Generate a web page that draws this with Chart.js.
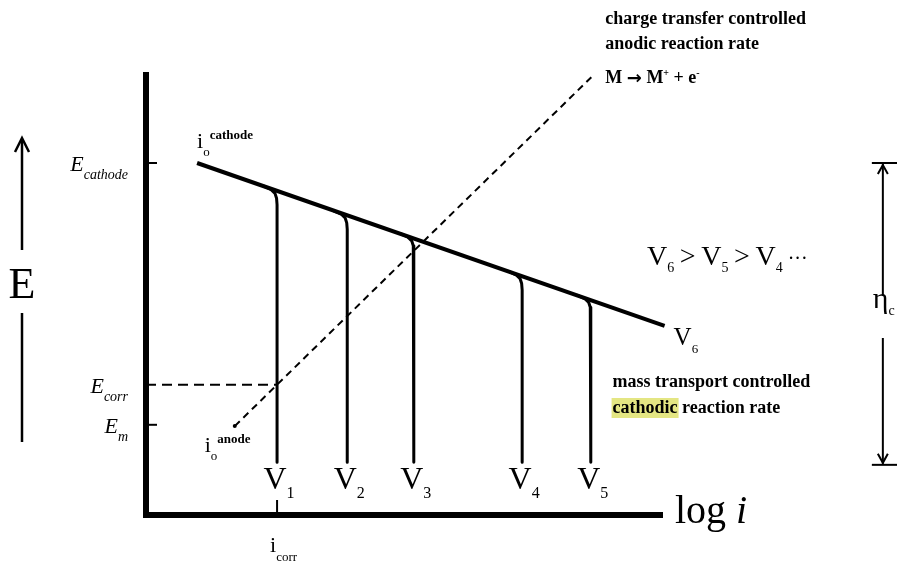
<!DOCTYPE html>
<html lang="en">
<head>
  <meta charset="UTF-8">
  <title>Evans diagram - mass transport controlled cathodic reaction</title>
  <script src="https://cdn.jsdelivr.net/npm/chart.js"></script>
  <style>
    body { margin: 0; background: #fff; }
    canvas { display: block; }
  </style>
</head>
<body>
  <canvas id="evans" width="897" height="564"></canvas>

  <script>
    // axes in arbitrary units: x = log i, y = E
    const cathodeX = [0.99, 10.05];      // i_o cathode -> V6
    const cathodeE = [8.0, 4.3];
    const anodeX = [1.72, 8.63];         // i_o anode -> M -> M+ + e-
    const anodeE = [2.02, 9.95];

    // limiting current curves V1..V5 (bend off the Tafel line, then straight down)
    const limitNames = ['1', '2', '3', '4', '5'];
    const curveX = [
      [2.27, 2.42, 2.50, 2.53, 2.54, 2.54],
      [3.63, 3.78, 3.86, 3.89, 3.90, 3.90],
      [4.92, 5.07, 5.15, 5.18, 5.19, 5.19],
      [7.02, 7.17, 7.25, 7.28, 7.29, 7.29],
      [8.35, 8.50, 8.58, 8.61, 8.62, 8.62]
    ];
    const curveE = [
      [7.48, 7.40, 7.31, 7.20, 7.05, 1.2],
      [6.92, 6.84, 6.75, 6.64, 6.49, 1.2],
      [6.40, 6.32, 6.23, 6.12, 5.97, 1.2],
      [5.54, 5.46, 5.37, 5.26, 5.11, 1.2],
      [5.00, 4.92, 4.83, 4.72, 4.57, 1.2]
    ];

    // potential levels on the E axis
    const eSubs = ['cathode', 'corr', 'm'];
    const eLevels = [8.0, 2.96, 2.05];
    const iCorr = 2.54;

    // overpotential bracket
    const etaX = 14.28;
    const etaE = [8.0, 1.14];

    const serif = '"Liberation Serif", "DejaVu Serif", serif';

    function pts(xs, ys) {
      return xs.map((v, i) => ({ x: v, y: ys[i] }));
    }

    // draws text pieces one after another (for sub/superscripts)
    function runs(ctx, items, x, base, align) {
      let w = 0;
      items.forEach(it => { ctx.font = it[1]; w += ctx.measureText(it[0]).width; });
      let cx = align === 'right' ? x - w : (align === 'center' ? x - w / 2 : x);
      items.forEach(it => {
        ctx.font = it[1];
        ctx.fillText(it[0], cx, base + (it[2] || 0));
        cx += ctx.measureText(it[0]).width;
      });
    }

    function line(ctx, x1, y1, x2, y2) {
      ctx.beginPath();
      ctx.moveTo(x1, y1);
      ctx.lineTo(x2, y2);
      ctx.stroke();
    }

    const textPlugin = {
      id: 'evansText',
      afterDatasetsDraw(chart) {
        const { ctx } = chart;
        const sx = chart.scales.x, sy = chart.scales.y;
        const px = v => sx.getPixelForValue(v);
        const py = v => sy.getPixelForValue(v);
        const axisX = px(0), axisY = py(0);

        ctx.save();
        ctx.fillStyle = '#000';
        ctx.strokeStyle = '#000';
        ctx.textBaseline = 'alphabetic';
        ctx.textAlign = 'left';

        // tick marks
        ctx.lineWidth = 2;
        [0, 2].forEach(i => line(ctx, axisX, py(eLevels[i]), axisX + 11, py(eLevels[i])));
        line(ctx, px(iCorr), axisY, px(iCorr), axisY - 15);

        // E labels
        eLevels.forEach((v, i) => {
          runs(ctx, [['E', 'italic 22px ' + serif], [eSubs[i], 'italic 14px ' + serif, 8]],
            axisX - 18, py(v) + 8, 'right');
        });

        // E axis title with arrow
        ctx.font = '44px ' + serif;
        ctx.textAlign = 'center';
        ctx.fillText('E', 22, 298);
        ctx.textAlign = 'left';
        ctx.lineWidth = 2.5;
        line(ctx, 22, 139, 22, 250);
        line(ctx, 22, 313, 22, 442);
        ctx.beginPath();
        ctx.moveTo(15, 152); ctx.lineTo(22, 138); ctx.lineTo(29, 152);
        ctx.stroke();

        // log i
        runs(ctx, [['log ', '40px ' + serif], ['i', 'italic 40px ' + serif]], sx.right + 13, axisY + 8, 'left');

        // i_corr
        runs(ctx, [['i', '22px ' + serif], ['corr', '13px ' + serif, 9]], px(iCorr) - 7, axisY + 37, 'left');

        // i_o cathode / i_o anode
        const c0x = px(cathodeX[0]), c0y = py(cathodeE[0]);
        runs(ctx, [['i', '22px ' + serif], ['o', '13px ' + serif, 8], ['cathode', 'bold 13px ' + serif, -9]],
          c0x, c0y - 15, 'left');
        const a0x = px(anodeX[0]), a0y = py(anodeE[0]);
        runs(ctx, [['i', '22px ' + serif], ['o', '13px ' + serif, 8], ['anode', 'bold 13px ' + serif, -9]],
          a0x - 30, a0y + 26, 'left');

        // V1..V5 labels under the limiting current lines
        limitNames.forEach((n, i) => {
          const xs = curveX[i];
          const lx = px(xs[xs.length - 1]) - 2;
          ctx.font = '32px ' + serif;
          const w = ctx.measureText('V').width;
          ctx.fillText('V', lx - w / 2, axisY - 26);
          ctx.font = '16px ' + serif;
          ctx.fillText(n, lx + w / 2, axisY - 17);
        });

        // V6 at the end of the line
        const eX = px(cathodeX[1]), eY = py(cathodeE[1]);
        runs(ctx, [['V', '25px ' + serif], ['6', '13px ' + serif, 8]], eX + 9, eY + 19, 'left');

        // V6 > V5 > V4 ...
        const vf = '28px ' + serif, vs = '14px ' + serif, gap = ['\u2009', vf];
        runs(ctx, [['V', vf], ['6', vs, 7], gap, ['>', vf], gap, ['V', vf], ['5', vs, 7], gap, ['>', vf], gap,
          ['V', vf], ['4', vs, 7], [' \u00b7\u00b7\u00b7', '20px ' + serif]], 647, 265, 'left');

        // annotations
        const af = 'bold 18px ' + serif;
        ctx.font = af;
        const tx = px(anodeX[1]) + 14;
        ctx.fillText('charge transfer controlled', tx, 24);
        ctx.fillText('anodic reaction rate', tx, 49);
        runs(ctx, [['M ', af], ['\u2192', 'bold 18px "DejaVu Sans", sans-serif', 1], [' M', af],
          ['+', 'bold 10px ' + serif, -7], [' + e', af], ['-', 'bold 10px ' + serif, -7]],
          tx, 83, 'left');

        const mx = eX - 52;
        ctx.font = af;
        const hw = ctx.measureText('cathodic').width;
        ctx.fillStyle = '#e4e683';
        ctx.fillRect(mx - 1, 398, hw + 2, 20);
        ctx.fillStyle = '#000';
        ctx.fillText('mass transport controlled', mx, 387);
        ctx.fillText('cathodic reaction rate', mx, 413);

        // overpotential bracket
        const ex = px(etaX), eTop = py(etaE[0]), eBot = py(etaE[1]);
        ctx.lineWidth = 2;
        line(ctx, ex - 11, eTop, 897, eTop);
        line(ctx, ex - 11, eBot, 897, eBot);
        line(ctx, ex, eTop + 1, ex, 295);
        line(ctx, ex, 338, ex, eBot - 1);
        ctx.beginPath();
        ctx.moveTo(ex - 5, eTop + 11); ctx.lineTo(ex, eTop + 2); ctx.lineTo(ex + 5, eTop + 11);
        ctx.moveTo(ex - 5, eBot - 11); ctx.lineTo(ex, eBot - 2); ctx.lineTo(ex + 5, eBot - 11);
        ctx.stroke();
        runs(ctx, [['\u03b7', '30px ' + serif], ['c', '14px ' + serif, 7]], ex - 10, 308, 'left');

        ctx.restore();
      }
    };

    const black = '#000';
    const datasets = [];
    curveX.forEach((xs, i) => {
      datasets.push({
        data: pts(xs, curveE[i]),
        borderColor: black, borderWidth: 3, borderJoinStyle: 'round', tension: 0,
        showLine: true, pointRadius: 0, clip: false
      });
    });
    datasets.push({
      data: pts(cathodeX, cathodeE),
      borderColor: black, borderWidth: 4, showLine: true, pointRadius: 0, clip: false
    });
    datasets.push({
      data: pts(anodeX, anodeE),
      borderColor: black, borderWidth: 2, borderDash: [7, 5],
      showLine: true, pointRadius: [2, 0], pointBackgroundColor: black, pointBorderWidth: 0, clip: false
    });
    datasets.push({
      data: pts([0, iCorr], [eLevels[1], eLevels[1]]),
      borderColor: black, borderWidth: 2, borderDash: [10, 6],
      showLine: true, pointRadius: 0, clip: false
    });

    const axisOpts = (lo, hi) => ({
      type: 'linear', min: lo, max: hi,
      ticks: { display: false },
      grid: { drawOnChartArea: false, drawTicks: false },
      border: { color: black, width: 6 }
    });

    new Chart(document.getElementById('evans'), {
      type: 'scatter',
      data: { datasets: datasets },
      options: {
        responsive: false,
        animation: false,
        layout: { padding: { left: 146, top: 75, right: 235, bottom: 49 } },
        plugins: { legend: { display: false }, tooltip: { enabled: false } },
        scales: { x: axisOpts(0, 10), y: axisOpts(0, 10) }
      },
      plugins: [textPlugin]
    });
  </script>
</body>
</html>
